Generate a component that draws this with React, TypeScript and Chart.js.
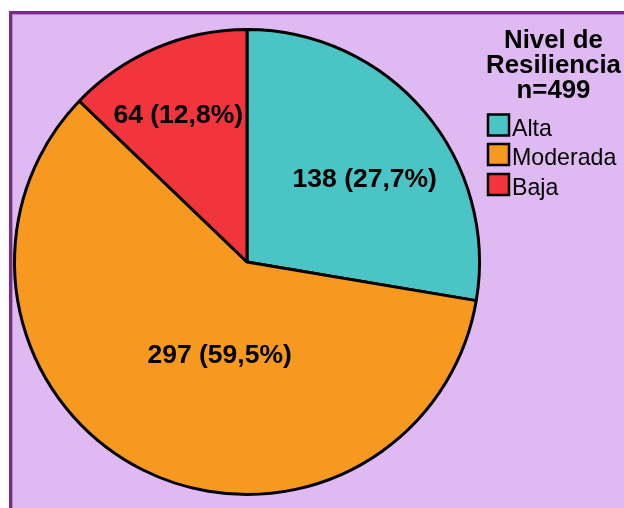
import React, { useEffect, useRef } from "react";
import { Chart, registerables } from "chart.js";

Chart.register(...registerables);

const categories = ["Alta", "Moderada", "Baja"];
const counts = [138, 297, 64];
const percentLabels = ["27,7%", "59,5%", "12,8%"];
const legendTitle = ["Nivel de", "Resiliencia", "n=499"];
const sliceColors = ["#4bc4c6", "#f7991e", "#f2343c"];

// label placement relative to each arc: [angle shift (deg), fraction of radius]
const labelPlacement: [number, number][] = [
  [4.6, 0.623],
  [-10.1, 0.412],
  [-1.9, 0.7],
];

const FONT = "'Liberation Sans', Arial, Helvetica, sans-serif";

const overlayPlugin = {
  id: "overlay",
  afterDatasetsDraw(chart: any) {
    const ctx = chart.ctx as CanvasRenderingContext2D;
    const meta = chart.getDatasetMeta(0);
    ctx.save();
    ctx.fillStyle = "#000";
    ctx.textAlign = "center";
    ctx.textBaseline = "alphabetic";
    ctx.font = `bold 26.5px ${FONT}`;
    meta.data.forEach((arc: any, i: number) => {
      const p = arc.getProps(["x", "y", "startAngle", "endAngle", "outerRadius"], true);
      const mid = (p.startAngle + p.endAngle) / 2 + (labelPlacement[i][0] * Math.PI) / 180;
      const r = p.outerRadius * labelPlacement[i][1];
      const x = p.x + Math.cos(mid) * r;
      const y = p.y + Math.sin(mid) * r;
      ctx.fillText(`${counts[i]} (${percentLabels[i]})`, x, y + 9);
    });

    // legend
    const lx = 553.5;
    ctx.font = `bold 25.8px ${FONT}`;
    const titleBase = [47.5, 72.5, 98];
    legendTitle.forEach((t, i) => ctx.fillText(t, lx, titleBase[i]));

    ctx.textAlign = "left";
    ctx.font = `23.2px ${FONT}`;
    const boxTop = [114.5, 144, 174];
    categories.forEach((c, i) => {
      ctx.fillStyle = sliceColors[i];
      ctx.fillRect(488, boxTop[i], 21, 21);
      ctx.strokeStyle = "#000";
      ctx.lineWidth = 2.5;
      ctx.strokeRect(488, boxTop[i], 21, 21);
      ctx.fillStyle = "#000";
      ctx.fillText(c, 512, boxTop[i] + 21);
    });
    ctx.restore();
  },
};

export default function App() {
  const ref = useRef<HTMLCanvasElement | null>(null);
  useEffect(() => {
    if (!ref.current) return;
    const chart = new Chart(ref.current, {
      type: "pie",
      data: {
        labels: categories,
        datasets: [
          {
            data: counts,
            backgroundColor: sliceColors,
            borderColor: "#000",
            borderWidth: 3,
          },
        ],
      },
      options: {
        responsive: false,
        animation: false,
        devicePixelRatio: 1,
        layout: { padding: { left: 13, right: 143, top: 28, bottom: 12 } },
        plugins: {
          legend: { display: false },
          tooltip: { enabled: false },
        },
      },
      plugins: [overlayPlugin],
    });
    return () => chart.destroy();
  }, []);

  return (
    <>
      <div
        style={{
          position: "fixed",
          left: 9,
          top: 11,
          width: 700,
          height: 600,
          background: "#dfb9f2",
          borderLeft: "3px solid #7b2a87",
          borderTop: "3px solid #7b2a87",
          boxShadow: "inset 1px 1px 0 #b982cc",
        }}
      />
      <canvas
        ref={ref}
        width={624}
        height={508}
        style={{ position: "fixed", left: 0, top: 0, width: 624, height: 508 }}
      />
    </>
  );
}
